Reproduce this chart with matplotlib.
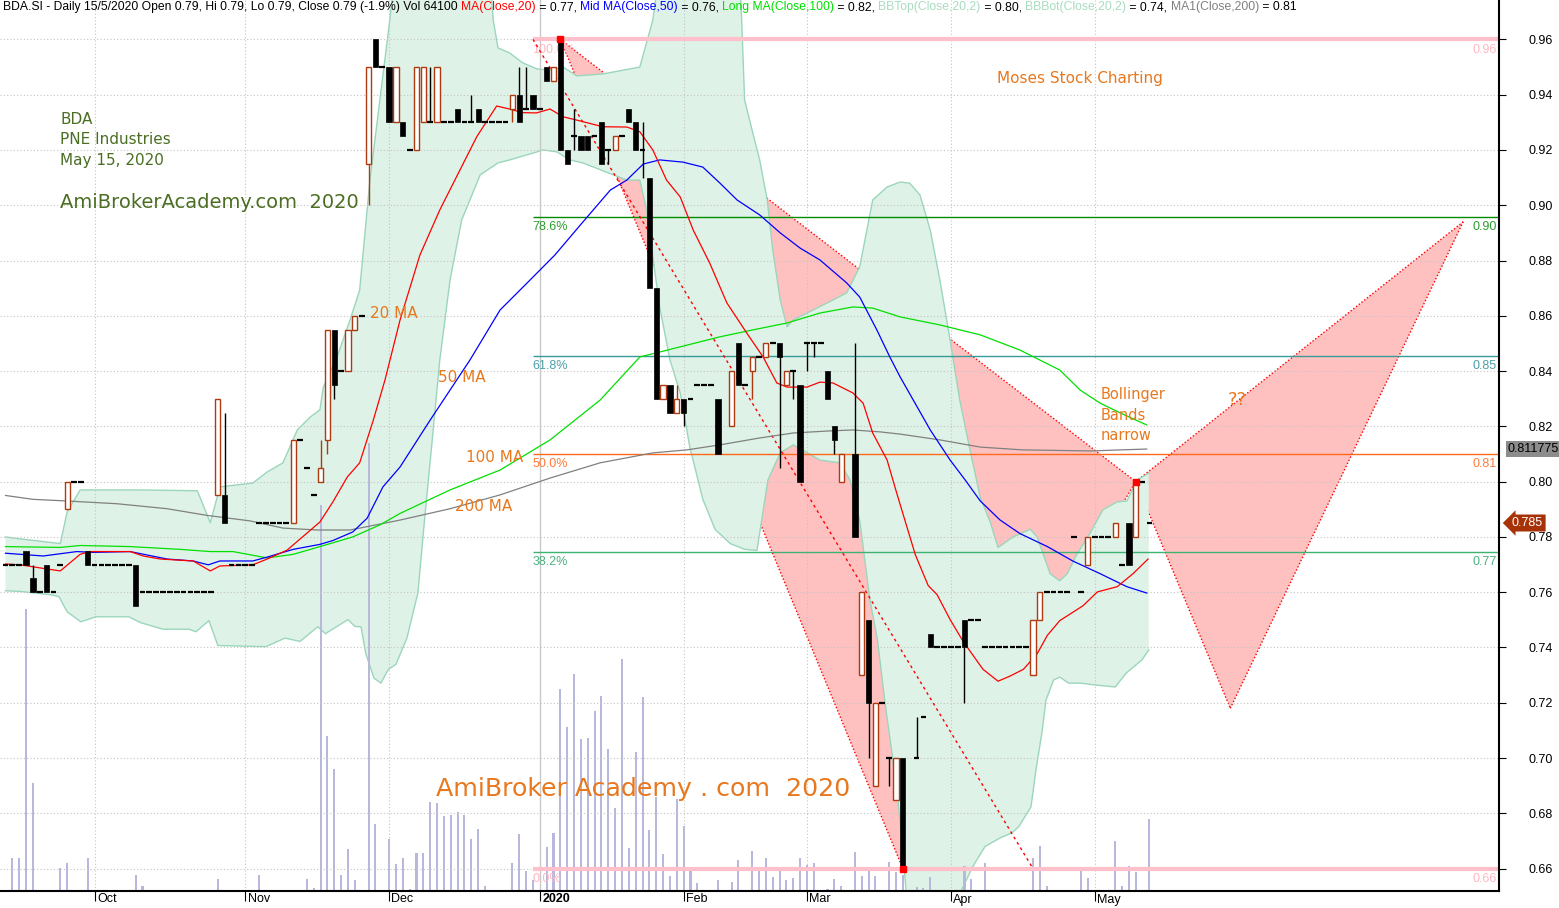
import matplotlib
matplotlib.use("Agg")
import matplotlib.pyplot as plt
from matplotlib.patches import Polygon, Rectangle
from matplotlib.transforms import blended_transform_factory
import numpy as np

W, H = 1559, 908
plt.rcParams["font.family"] = ["Liberation Sans", "DejaVu Sans"]

# ---------------- daily bars, index 0 = mid Sep 2019 ... 167 = 15 May 2020 (None = no bar)
opens = [
    0.77, 0.77, 0.77, 0.775, 0.765, 0.76, 0.77, 0.76, 0.77, 0.79,
    0.80, 0.80, 0.775, 0.77, 0.77, 0.77, 0.77, 0.77, 0.77, 0.77,
    0.76, 0.76, 0.76, 0.76, 0.76, 0.76, 0.76, 0.76, 0.76, 0.76,
    0.76, 0.795, 0.795, 0.77, 0.77, 0.77, 0.77, 0.785, 0.785, 0.785,
    0.785, 0.785, 0.785, 0.815, 0.805, 0.795, 0.80, 0.815, 0.855, 0.84,
    0.84, 0.855, 0.86, 0.915, 0.96, 0.95, 0.95, 0.93, 0.93, 0.92,
    0.92, 0.93, 0.93, 0.93, 0.93, 0.93, 0.935, 0.93, 0.93, 0.935,
    0.93, 0.93, 0.93, 0.93, 0.935, 0.94, 0.935, 0.94, 0.935, 0.95,
    0.945, 0.96, 0.92, 0.925, 0.925, 0.925, 0.925, 0.93, 0.92, 0.92,
    0.925, 0.935, 0.93, 0.92, 0.91, 0.87, 0.83, 0.835, 0.825, 0.83,
    0.83, 0.835, 0.835, 0.835, 0.83, None, 0.82, 0.85, 0.835, 0.84,
    0.845, 0.845, 0.85, 0.85, 0.835, 0.84, 0.835, 0.85, 0.85, 0.85,
    0.84, 0.82, 0.80, None, 0.81, 0.73, 0.75, 0.69, 0.72, 0.70,
    0.685, 0.70, None, 0.70, 0.715, 0.745, 0.74, 0.74, 0.74, 0.74,
    0.75, 0.75, 0.75, 0.74, 0.74, 0.74, 0.74, 0.74, 0.74, 0.74,
    0.73, 0.75, 0.76, 0.76, 0.76, 0.76, 0.78, 0.76, 0.77, 0.78,
    0.78, 0.78, 0.78, 0.77, 0.785, 0.78, 0.80, 0.785,
]
highs = [
    0.77, 0.77, 0.77, 0.775, 0.77, 0.76, 0.77, 0.76, 0.77, 0.80,
    0.80, 0.80, 0.775, 0.77, 0.77, 0.77, 0.77, 0.77, 0.77, 0.77,
    0.76, 0.76, 0.76, 0.76, 0.76, 0.76, 0.76, 0.76, 0.76, 0.76,
    0.76, 0.83, 0.825, 0.77, 0.77, 0.77, 0.77, 0.785, 0.785, 0.785,
    0.785, 0.785, 0.815, 0.815, 0.805, 0.795, 0.815, 0.855, 0.855, 0.84,
    0.855, 0.86, 0.86, 0.95, 0.96, 0.95, 0.95, 0.95, 0.93, 0.92,
    0.95, 0.95, 0.95, 0.95, 0.93, 0.93, 0.935, 0.93, 0.94, 0.935,
    0.93, 0.93, 0.93, 0.93, 0.94, 0.95, 0.95, 0.94, 0.935, 0.95,
    0.95, 0.96, 0.92, 0.935, 0.925, 0.925, 0.925, 0.93, 0.92, 0.925,
    0.925, 0.935, 0.93, 0.93, 0.91, 0.87, 0.835, 0.835, 0.835, 0.83,
    0.83, 0.835, 0.835, 0.835, 0.83, None, 0.84, 0.85, 0.835, 0.845,
    0.845, 0.85, 0.85, 0.85, 0.84, 0.84, 0.835, 0.85, 0.85, 0.85,
    0.84, 0.82, 0.81, None, 0.85, 0.76, 0.75, 0.72, 0.72, 0.70,
    0.70, 0.70, None, 0.715, 0.715, 0.745, 0.74, 0.74, 0.74, 0.74,
    0.75, 0.75, 0.75, 0.74, 0.74, 0.74, 0.74, 0.74, 0.74, 0.74,
    0.75, 0.76, 0.76, 0.76, 0.76, 0.76, 0.78, 0.76, 0.78, 0.78,
    0.78, 0.78, 0.785, 0.77, 0.785, 0.80, 0.80, 0.785,
]
lows = [
    0.77, 0.77, 0.77, 0.77, 0.76, 0.76, 0.76, 0.76, 0.77, 0.79,
    0.80, 0.80, 0.77, 0.77, 0.77, 0.77, 0.77, 0.77, 0.77, 0.755,
    0.76, 0.76, 0.76, 0.76, 0.76, 0.76, 0.76, 0.76, 0.76, 0.76,
    0.76, 0.795, 0.785, 0.77, 0.77, 0.77, 0.77, 0.785, 0.785, 0.785,
    0.785, 0.785, 0.785, 0.815, 0.805, 0.795, 0.80, 0.81, 0.83, 0.84,
    0.84, 0.855, 0.86, 0.90, 0.95, 0.95, 0.93, 0.93, 0.925, 0.92,
    0.92, 0.93, 0.93, 0.93, 0.93, 0.93, 0.93, 0.93, 0.93, 0.93,
    0.93, 0.93, 0.93, 0.93, 0.93, 0.93, 0.935, 0.935, 0.935, 0.945,
    0.945, 0.92, 0.915, 0.92, 0.92, 0.92, 0.925, 0.915, 0.915, 0.92,
    0.925, 0.93, 0.92, 0.91, 0.87, 0.83, 0.83, 0.825, 0.825, 0.82,
    0.83, 0.835, 0.835, 0.835, 0.81, None, 0.82, 0.835, 0.835, 0.83,
    0.845, 0.845, 0.85, 0.805, 0.835, 0.83, 0.80, 0.84, 0.845, 0.85,
    0.83, 0.81, 0.80, None, 0.78, 0.73, 0.70, 0.69, 0.72, 0.69,
    0.685, 0.66, None, 0.70, 0.715, 0.74, 0.74, 0.74, 0.74, 0.74,
    0.72, 0.75, 0.75, 0.74, 0.74, 0.74, 0.74, 0.74, 0.74, 0.74,
    0.73, 0.75, 0.76, 0.76, 0.76, 0.76, 0.78, 0.76, 0.77, 0.78,
    0.78, 0.78, 0.78, 0.77, 0.77, 0.78, 0.80, 0.785,
]
closes = [
    0.77, 0.77, 0.77, 0.77, 0.76, 0.76, 0.76, 0.76, 0.77, 0.80,
    0.80, 0.80, 0.77, 0.77, 0.77, 0.77, 0.77, 0.77, 0.77, 0.755,
    0.76, 0.76, 0.76, 0.76, 0.76, 0.76, 0.76, 0.76, 0.76, 0.76,
    0.76, 0.83, 0.785, 0.77, 0.77, 0.77, 0.77, 0.785, 0.785, 0.785,
    0.785, 0.785, 0.815, 0.815, 0.805, 0.795, 0.805, 0.855, 0.835, 0.84,
    0.855, 0.86, 0.86, 0.95, 0.95, 0.95, 0.93, 0.95, 0.925, 0.92,
    0.95, 0.95, 0.93, 0.95, 0.93, 0.93, 0.93, 0.93, 0.93, 0.93,
    0.93, 0.93, 0.93, 0.93, 0.94, 0.93, 0.935, 0.935, 0.935, 0.945,
    0.95, 0.92, 0.915, 0.925, 0.92, 0.92, 0.925, 0.915, 0.92, 0.925,
    0.925, 0.93, 0.92, 0.92, 0.87, 0.83, 0.835, 0.825, 0.83, 0.825,
    0.83, 0.835, 0.835, 0.835, 0.81, None, 0.84, 0.835, 0.835, 0.845,
    0.845, 0.85, 0.85, 0.845, 0.84, 0.84, 0.80, 0.85, 0.85, 0.85,
    0.83, 0.815, 0.81, None, 0.78, 0.76, 0.72, 0.72, 0.72, 0.70,
    0.70, 0.66, None, 0.70, 0.715, 0.74, 0.74, 0.74, 0.74, 0.74,
    0.74, 0.75, 0.75, 0.74, 0.74, 0.74, 0.74, 0.74, 0.74, 0.74,
    0.75, 0.76, 0.76, 0.76, 0.76, 0.76, 0.78, 0.76, 0.78, 0.78,
    0.78, 0.78, 0.785, 0.77, 0.77, 0.80, 0.80, 0.785,
]
# volume, thousands of shares
volume = [
    0, 29.6, 29.6, 250.7, 96.1, 0, 0.9, 0, 20.5, 24.9,
    0, 0, 29.6, 0, 0, 0, 0, 0, 0, 14.2,
    4.7, 0, 0, 0, 0, 0, 0, 0, 0, 0,
    0, 10.7, 0.9, 0, 0, 0, 0, 14.2, 0, 0,
    0, 0, 0.5, 0, 10.7, 2.9, 343.5, 138.0, 108.6, 14.2,
    37.4, 9.8, 0, 398.7, 59.6, 0, 46.5, 24.0, 29.6, 1.8,
    33.8, 33.8, 79.5, 78.3, 66.8, 67.6, 70.3, 67.6, 46.3, 55.2,
    4.7, 0, 0, 0, 24.9, 50.7, 17.8, 9.8, 0, 39.2,
    51.6, 179.8, 146.2, 193.1, 135.3, 136.4, 160.2, 173.6, 126.4, 74.1,
    206.5, 38.5, 123.7, 172.7, 54.6, 83.9, 32.9, 13.4, 81.9, 57.9,
    19.6, 7.4, 0, 0, 9.8, 0, 8.3, 27.6, 0, 35.9,
    19.6, 29.6, 12.7, 17.8, 9.8, 11.8, 29.6, 23.1, 24.9, 0,
    1.8, 10.7, 4.5, 0, 34.7, 13.4, 18.7, 13.4, 0, 25.8,
    17.2, 14.2, 0, 3.6, 2.7, 12.5, 0, 0, 0, 0,
    22.3, 10.7, 0, 24.9, 0, 0, 0, 0, 0, 0,
    29.4, 40.0, 4.5, 0, 0, 0, 0.9, 19.6, 11.6, 0,
    0, 0, 44.5, 4.5, 22.3, 17.2, 0, 64.1,
]

# indicator lines (bar index, price)
ma20_idx = [0, 2.1, 4.0, 5.8, 8.0, 10.9, 12.3, 18.2, 20.1, 22.6, 27.4, 29.9, 31.3, 36.1, 38.2,
            41.1, 45.9, 47.8, 49.9, 51.7, 53.7, 55.4, 57.6, 60.5, 63.4, 65.6, 68.8, 71.7, 73.6,
            75.5, 77.5, 79.5, 81.4, 83.4, 87.2, 90.7, 92.6, 94.5, 96.5, 98.5, 100.4, 102.8, 105.3,
            108.2, 110.6, 112.6, 114.1, 117.0, 118.9, 120.8, 123.7, 125.2, 126.6, 128.7, 130.1,
            132.8, 134.7, 136.0, 137.9, 139.8, 142.7, 144.9, 146.6, 148.6, 150.6, 152.1, 153.9,
            157.3, 159.4, 162.3, 164.6, 166.8]
ma20_val = [0.7702, 0.7699, 0.7692, 0.7685, 0.7677, 0.7737, 0.7747, 0.7747, 0.7731, 0.7720,
            0.7713, 0.7677, 0.7695, 0.7699, 0.7720, 0.7752, 0.7854, 0.7927, 0.8017, 0.8068,
            0.8223, 0.8368, 0.8585, 0.8820, 0.8983, 0.9091, 0.9248, 0.9359, 0.9348, 0.9335,
            0.9334, 0.9348, 0.9320, 0.9308, 0.9284, 0.9283, 0.9266, 0.9200, 0.9091, 0.9030,
            0.8910, 0.8791, 0.8647, 0.8538, 0.8451, 0.8357, 0.8342, 0.8342, 0.8360, 0.8357,
            0.8321, 0.8284, 0.8176, 0.8078, 0.7959, 0.7737, 0.7624, 0.7591, 0.7501, 0.7422,
            0.7321, 0.7278, 0.7296, 0.7321, 0.7377, 0.7444, 0.7497, 0.7551, 0.7601, 0.7620,
            0.7667, 0.7720]

ma50_idx = [0, 5.5, 10.4, 12.8, 18.2, 23.6, 27.4, 29.6, 31.3, 36.1, 38.2, 42.0, 45.9, 47.8,
            50.7, 52.8, 55.1, 57.6, 62.0, 67.8, 72.2, 76.6, 80.2, 83.9, 88.3, 90.7, 93.1, 95.5,
            98.9, 101.8, 104.3, 106.8, 110.1, 113.1, 116.0, 118.9, 122.8, 124.7, 127.2, 129.1,
            130.6, 135.0, 137.9, 140.1, 142.3, 145.2, 148.1, 152.1, 155.8, 159.8, 163.7, 166.6]
ma50_val = [0.7741, 0.7731, 0.7747, 0.7744, 0.7747, 0.7720, 0.7713, 0.7699, 0.7713, 0.7713,
            0.7727, 0.7755, 0.7773, 0.7787, 0.7818, 0.7868, 0.7981, 0.8053, 0.8223, 0.8440,
            0.8621, 0.8730, 0.8820, 0.8928, 0.9055, 0.9091, 0.9149, 0.9164, 0.9156, 0.9138,
            0.9080, 0.9019, 0.8965, 0.8900, 0.8845, 0.8802, 0.8719, 0.8668, 0.8549, 0.8451,
            0.8379, 0.8187, 0.8078, 0.8006, 0.7930, 0.7861, 0.7812, 0.7765, 0.7713, 0.7667,
            0.7620, 0.7597]

ma100_idx = [0, 8.0, 10.9, 18.2, 25.5, 29.9, 33.2, 38.2, 42.0, 45.9, 50.7, 54.7, 57.6, 64.9,
             72.2, 79.5, 86.8, 92.6, 95.5, 99.5, 104.3, 109.1, 114.1, 118.9, 123.7, 126.6,
             130.6, 136.4, 142.3, 148.1, 153.9, 156.9, 159.8, 162.7, 166.6]
ma100_val = [0.7765, 0.7762, 0.7769, 0.7765, 0.7755, 0.7747, 0.7747, 0.7724, 0.7737, 0.7765,
             0.7800, 0.7844, 0.7885, 0.7970, 0.8042, 0.8151, 0.8295, 0.8451, 0.8469, 0.8494,
             0.8524, 0.8549, 0.8574, 0.8610, 0.8632, 0.8628, 0.8596, 0.8567, 0.8531, 0.8476,
             0.8404, 0.8331, 0.8284, 0.8249, 0.8205]

ma200_idx = [0, 4.0, 9.0, 16.3, 23.6, 29.4, 35.7, 40.5, 45.5, 50.3, 57.6, 64.9, 72.2, 79.5,
             86.8, 94.5, 99.5, 104.3, 110.1, 115.0, 119.9, 123.7, 127.7, 130.6, 136.4, 142.3,
             148.4, 158.3, 166.6]
ma200_val = [0.7950, 0.7936, 0.7930, 0.7920, 0.7902, 0.7878, 0.7858, 0.7832, 0.7825, 0.7825,
             0.7861, 0.7902, 0.7952, 0.8013, 0.8068, 0.8104, 0.8115, 0.8133, 0.8158, 0.8176,
             0.8183, 0.8187, 0.8180, 0.8172, 0.8151, 0.8125, 0.8115, 0.8111, 0.8118]

bb_top_idx = [0, 2.1, 8.0, 9.0, 10.9, 19.6, 28.0, 29.9, 31.3, 36.1, 38.2, 40.5, 42.6, 44.5,
              45.9, 46.4, 48.4, 50.3, 51.7, 53.2, 56.1, 56.9, 70.7, 71.2, 71.9, 73.6, 75.5,
              77.6, 79.5, 81.4, 83.4, 87.2, 92.6, 94.5, 95.5, 107.2, 107.9, 109.1, 110.1,
              111.2, 112.0, 113.1, 114.1, 115.0, 117.9, 120.8, 122.8, 124.7, 126.6, 128.7,
              130.6, 132.0, 133.5, 135.0, 136.4, 137.9, 139.3, 140.8, 142.3, 143.7, 144.9,
              147.1, 149.6, 150.6, 151.5, 152.5, 153.9, 155.0, 156.4, 158.3, 160.2, 162.3,
              163.7, 165.2, 166.9]
bb_top_val = [0.780, 0.7793, 0.7776, 0.7891, 0.797, 0.797, 0.7967, 0.7851, 0.7981, 0.7995,
              0.8035, 0.8068, 0.8187, 0.8234, 0.826, 0.8342, 0.8451, 0.8585, 0.8693, 0.9091,
              0.967, 0.985, 0.985, 0.967, 0.9569, 0.9551, 0.9515, 0.9493, 0.9489, 0.95,
              0.9468, 0.9475, 0.95, 0.967, 0.985, 0.985, 0.9381, 0.9261, 0.9164, 0.9019,
              0.8838, 0.8657, 0.856, 0.8585, 0.8621, 0.8657, 0.8683, 0.8777, 0.9019, 0.9066,
              0.9084, 0.908, 0.9037, 0.891, 0.873, 0.8512, 0.8295, 0.8115, 0.7943, 0.7858,
              0.7762, 0.78, 0.7828, 0.78, 0.7737, 0.7667, 0.7641, 0.7667, 0.7737, 0.7812,
              0.7898, 0.7927, 0.793, 0.8006, 0.8031]
bb_bot_idx = [0, 2.1, 4.3, 6.5, 7.8, 9.0, 11.0, 13.2, 18.0, 19.7, 23.0, 26.8, 27.8, 29.7,
              31.0, 38.0, 40.8, 43.0, 45.6, 46.7, 50.0, 51.0, 51.9, 52.6, 53.8, 54.8, 55.9,
              57.0, 58.6, 60.2, 61.2, 62.3, 63.4, 64.9, 66.6, 69.3, 71.9, 73.6, 77.6, 78.5,
              80.5, 82.4, 84.3, 90.7, 92.6, 93.6, 94.5, 95.5, 97.0, 98.5, 99.9, 101.8, 103.6,
              105.8, 107.9, 109.7, 111.3, 113.1, 115.0, 118.9, 121.8, 123.3, 124.7, 126.2,
              127.3, 128.4, 130.1, 130.9, 131.5, 133.5, 137.9, 139.6, 141.2, 143.0, 145.2,
              146.9, 147.9, 149.7, 150.5, 151.3, 151.9, 153.0, 153.9, 155.2, 156.9, 159.2,
              162.0, 163.6, 165.9, 166.9]
bb_bot_val = [0.7605, 0.7603, 0.7597, 0.7591, 0.7584, 0.7529, 0.7493, 0.7511, 0.7511, 0.749,
              0.7466, 0.7466, 0.7457, 0.7497, 0.7407, 0.7403, 0.7434, 0.7422, 0.7475, 0.745,
              0.7501, 0.7476, 0.7475, 0.7377, 0.7289, 0.7271, 0.7321, 0.7339, 0.7434, 0.7597,
              0.7868, 0.8151, 0.844, 0.873, 0.8947, 0.911, 0.9153, 0.9164, 0.9193, 0.92,
              0.9193, 0.9164, 0.9153, 0.9091, 0.9091, 0.8983, 0.8813, 0.8632, 0.844, 0.8321,
              0.8125, 0.7936, 0.7827, 0.7776, 0.7755, 0.7751, 0.8006, 0.8104, 0.8133, 0.8078,
              0.8068, 0.8006, 0.7861, 0.7571, 0.7427, 0.7199, 0.6895, 0.6692, 0.651, 0.631,
              0.627, 0.6524, 0.6607, 0.668, 0.6711, 0.6729, 0.6751, 0.6823, 0.6968, 0.7091,
              0.721, 0.7282, 0.7293, 0.7271, 0.7271, 0.7264, 0.7257, 0.7307, 0.7355, 0.7391]

# Fibonacci retracement anchors and levels
fib_idx = [77, 150]
fib_val = [0.96, 0.66]
fib_ratio = [1.0, 0.786, 0.618, 0.5, 0.382, 0.0]
fib_pct = ["100.0%", "78.6%", "61.8%", "50.0%", "38.2%", "0.0%"]
fib_right = ["0.96", "0.90", "0.85", "0.81", "0.77", "0.66"]
fib_line_col = ["#ffc0cb", "#008c00", "#3a9a9a", "#ff6a1a", "#3cb371", "#ffc0cb"]
fib_text_col = ["#ffb6c1", "#2f9a2f", "#4aa0a8", "#ff7a3a", "#4cb080", "#ffb6c1"]

# harmonic pattern points X, A, B, C, D
pat_idx = [81, 131, 165, 178.8, 212.8]
pat_val = [0.96, 0.66, 0.80, 0.718, 0.894]

month_pos = [13, 35, 56, 78, 99, 117, 138, 159]
month_lbl = ["Oct", "Nov", "Dec", "2020", "Feb", "Mar", "Apr", "May"]
price_ticks = [0.66, 0.68, 0.70, 0.72, 0.74, 0.76, 0.78, 0.80, 0.82, 0.84, 0.86, 0.88,
               0.90, 0.92, 0.94, 0.96]

# ---------------- layout
XMIN, XMAX = -5.5 / 6.85, (1499 - 5.5) / 6.85
YMIN = 0.96 - (891 - 39.4) / 2764.0
YMAX = 0.96 + 39.4 / 2764.0
HOLLOW = "#b03a10"
ORANGE = "#e8781e"
OLIVE = "#4b6e23"

fig = plt.figure(figsize=(W / 100, H / 100), dpi=100, facecolor="white")
rect = [0, 17 / H, 1499 / W, 891 / H]
ax_bg = fig.add_axes(rect)
ax_vol = fig.add_axes(rect, sharex=ax_bg)
ax = fig.add_axes(rect, sharex=ax_bg, sharey=ax_bg)
ax_vol.patch.set_visible(False)
ax.patch.set_visible(False)
ax.set_xlim(XMIN, XMAX)
ax.set_ylim(YMIN, YMAX)
for a in (ax_bg, ax_vol):
    a.set_axis_off()


def frac(x, y):
    return x / 1499.0, 1 - y / 891.0


# background: harmonic triangles under the Bollinger fill
X, A, B, C, D = list(zip(pat_idx, pat_val))
ax_bg.add_patch(Polygon([X, A, B], closed=True, fc="#ffc0c0", ec="none", zorder=1))
ax_bg.add_patch(Polygon([B, C, D], closed=True, fc="#ffc0c0", ec="none", zorder=1))
for p, q in [(X, A), (A, B), (X, B), (B, C), (C, D), (B, D)]:
    ax_bg.plot([p[0], q[0]], [p[1], q[1]], color="red", lw=1, ls=(0, (1, 1.5)), zorder=1.5)

band = list(zip(bb_top_idx, bb_top_val)) + list(zip(bb_bot_idx[::-1], bb_bot_val[::-1]))
ax_bg.add_patch(Polygon(band, closed=True, fc="#dff2e7", ec="none", zorder=2))
ax_bg.plot(bb_top_idx, bb_top_val, color="#9bd6bc", lw=1, zorder=2.5)
ax_bg.plot(bb_bot_idx, bb_bot_val, color="#9bd6bc", lw=1, zorder=2.5)

# volume
ax_vol.bar(range(len(volume)), volume, width=0.3, color="#b8b8dc", linewidth=0)
ax_vol.set_ylim(0, 891 * 0.89)

# grid
for p in price_ticks:
    ax.axhline(p, color="#c4c4c4", lw=0.8, ls=(0, (1, 2)), zorder=0.5)
for m, lbl in zip(month_pos, month_lbl):
    if lbl == "2020":
        ax.axvline(m, color="#c8c8c8", lw=1, zorder=0.5)
    else:
        ax.axvline(m, color="#c4c4c4", lw=0.8, ls=(0, (1, 2)), zorder=0.5)

# fibonacci
ytr = ax.get_yaxis_transform()
lo, hi = fib_val[1], fib_val[0]
for r, pct, rl, lc, tc in zip(fib_ratio, fib_pct, fib_right, fib_line_col, fib_text_col):
    lev = lo + r * (hi - lo)
    ax.hlines(lev, fib_idx[0], XMAX, color=lc, lw=3 if r in (0.0, 1.0) else 1, zorder=1)
    ax.text(fib_idx[0] - 0.1, lev - 0.0015, pct, color=tc, fontsize=9, ha="left", va="top", zorder=1)
    ax.text(1497 / 1499, lev - 0.0015, rl, transform=ytr, color=tc, fontsize=9,
            ha="right", va="top", zorder=1)
ax.plot(fib_idx, fib_val, color="red", lw=1, ls=(0, (2, 2.5)), zorder=1.5)

# moving averages
ax.plot(ma200_idx, ma200_val, color="#808080", lw=0.9, zorder=2)
ax.plot(ma100_idx, ma100_val, color="#00e000", lw=0.9, zorder=2)
ax.plot(ma50_idx, ma50_val, color="#0000ff", lw=0.9, zorder=2)
ax.plot(ma20_idx, ma20_val, color="#ff0000", lw=0.9, zorder=2)

# candles
for i, (o, h, l, c) in enumerate(zip(opens, highs, lows, closes)):
    if o is None:
        continue
    up = c > o
    col = HOLLOW if up else "black"
    if h > max(o, c):
        ax.vlines(i, max(o, c), h, color=col, lw=1, zorder=3)
    if l < min(o, c):
        ax.vlines(i, l, min(o, c), color=col, lw=1, zorder=3)
    if c == o:
        ax.hlines(c, i - 0.42, i + 0.42, color="black", lw=1.6, zorder=3)
    elif up:
        ax.add_patch(Rectangle((i - 0.38, o), 0.76, c - o, fc="white", ec=HOLLOW, lw=1, zorder=3))
    else:
        ax.add_patch(Rectangle((i - 0.38, c), 0.76, o - c, fc="black", ec="black", lw=0.5, zorder=3))

ax.plot([X[0], A[0], B[0]], [X[1], A[1], B[1]], ls="none", marker="s", ms=5,
        color="red", zorder=4)

# axes styling
for s in ("top", "left"):
    ax.spines[s].set_visible(False)
for s in ("right", "bottom"):
    ax.spines[s].set_linewidth(1.5)
ax.yaxis.tick_right()
ax.set_yticks(price_ticks)
ax.set_yticklabels([f"{p:.2f}" for p in price_ticks])
ax.tick_params(axis="y", length=5, pad=16, labelsize=9)
ax.set_xticks(month_pos)
ax.set_xticklabels([])
ax.tick_params(axis="x", length=7)
xtr = blended_transform_factory(ax.transData, ax.transAxes)
for m, lbl in zip(month_pos, month_lbl):
    ax.text(m + 0.35, -8.5 / 891, lbl, transform=xtr, fontsize=9, ha="left", va="center",
            fontweight="bold" if lbl == "2020" else "normal", clip_on=False)

# annotations
notes = [
    ("BDA", 60, 120, OLIVE, 11),
    ("PNE Industries", 60, 140, OLIVE, 11),
    ("May 15, 2020", 60, 160, OLIVE, 11),
    ("AmiBrokerAcademy.com  2020", 60, 203, OLIVE, 14),
    ("Moses Stock Charting", 997, 78, ORANGE, 11),
    ("20 MA", 370, 313, ORANGE, 11),
    ("50 MA", 438, 377, ORANGE, 11),
    ("100 MA", 466, 458, ORANGE, 11),
    ("200 MA", 455, 507, ORANGE, 11),
    ("Bollinger", 1101, 395, ORANGE, 10.5),
    ("Bands", 1101, 415, ORANGE, 10.5),
    ("narrow", 1101, 435, ORANGE, 10.5),
    ("??", 1228, 400, ORANGE, 13),
    ("AmiBroker Academy . com  2020", 436, 789, ORANGE, 18.2),
]
for s, x, y, col, fs in notes:
    ax.text(*frac(x, y), s, transform=ax.transAxes, color=col, fontsize=fs,
            ha="left", va="center", family=["DejaVu Sans"], zorder=5)

# right-hand value tags
fig.text(1508 / W, 1 - 449 / H, "0.811775", fontsize=9, color="black", ha="left", va="center",
         bbox=dict(boxstyle="square,pad=0.15", fc="#8c8c8c", ec="none"))
fig.text(1512 / W, 1 - 523 / H, "0.785", fontsize=9, color="white", ha="left", va="center",
         bbox=dict(boxstyle="larrow,pad=0.2", fc="#a83208", ec="none"))

# header line in several colours
header = [
    ("BDA.SI - Daily 15/5/2020 Open 0.79, Hi 0.79, Lo 0.79, Close 0.79 (-1.9%) Vol 64100 ", "black"),
    ("MA(Close,20)", "#ff0000"), (" = 0.77, ", "black"),
    ("Mid MA(Close,50)", "#0000ff"), (" = 0.76, ", "black"),
    ("Long MA(Close,100)", "#00e000"), (" = 0.82, ", "black"),
    ("BBTop(Close,20,2)", "#a8dcc0"), (" = 0.80, ", "black"),
    ("BBBot(Close,20,2)", "#a8dcc0"), (" = 0.74, ", "black"),
    ("MA1(Close,200)", "#808080"), (" = 0.81", "black"),
]
fig.canvas.draw()
rend = fig.canvas.get_renderer()
xpos = 3.0
for s, col in header:
    t = fig.text(xpos / W, 1 - 7 / H, s, color=col, fontsize=8.7, ha="left", va="center")
    xpos = t.get_window_extent(renderer=rend).x1

fig.savefig("out.png", dpi=100, facecolor="white")
